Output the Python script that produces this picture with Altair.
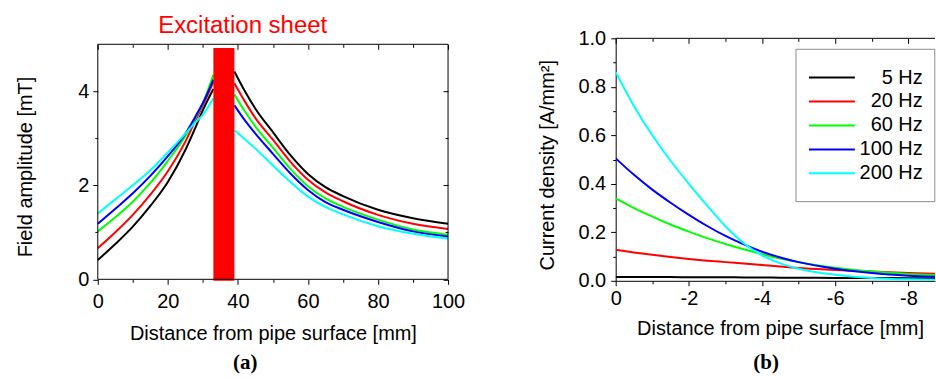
import altair as alt
import pandas as pd

# ---------------- data ----------------
freqs = ["5 Hz", "20 Hz", "60 Hz", "100 Hz", "200 Hz"]
colors = ["#000000", "#ff0000", "#00ff00", "#0000ff", "#00ffff"]

# (a) field amplitude [mT] vs distance [mm]; inner side of the sheet
a_x_in = [0, 5, 10, 15, 20, 25, 28, 30, 33]
a_in_5 = [0.41, 0.75, 1.12, 1.56, 2.07, 2.75, 3.25, 3.6, 4.05]
a_in_20 = [0.66, 1.0, 1.37, 1.8, 2.3, 2.93, 3.4, 3.7, 4.2]
a_in_60 = [1.02, 1.32, 1.65, 2.05, 2.52, 3.05, 3.45, 3.75, 4.35]
a_in_100 = [1.18, 1.5, 1.83, 2.2, 2.62, 3.1, 3.48, 3.75, 4.25]
a_in_200 = [1.40, 1.7, 2.0, 2.32, 2.7, 3.1, 3.35, 3.5, 3.85]
# outer side of the sheet
a_x_out = [39, 42, 45, 50, 55, 60, 65, 70, 80, 90, 100]
a_out_5 = [4.42, 4.0, 3.63, 3.13, 2.64, 2.24, 1.96, 1.77, 1.48, 1.3, 1.18]
a_out_20 = [4.17, 3.78, 3.43, 2.97, 2.5, 2.12, 1.85, 1.66, 1.37, 1.18, 1.07]
a_out_60 = [3.93, 3.57, 3.25, 2.8, 2.35, 1.98, 1.72, 1.54, 1.27, 1.06, 0.95]
a_out_100 = [3.7, 3.38, 3.1, 2.67, 2.25, 1.9, 1.64, 1.48, 1.22, 1.02, 0.91]
a_out_200 = [3.17, 2.98, 2.78, 2.42, 2.07, 1.76, 1.54, 1.38, 1.13, 0.97, 0.87]

sheet_x0, sheet_x1 = [33], [39]
sheet_y0, sheet_y1 = [-0.03], [4.92]

# (b) current density [A/mm^2] vs depth [mm]
b_x = [0, -0.5, -1, -1.5, -2, -2.5, -3, -3.5, -4, -4.5, -5, -6, -7, -8, -9]
b_5 = [0.016, 0.016, 0.016, 0.0155, 0.015, 0.015, 0.0145, 0.014, 0.0135, 0.013,
       0.0125, 0.012, 0.0115, 0.011, 0.010]
b_20 = [0.128, 0.117, 0.107, 0.098, 0.09, 0.083, 0.077, 0.071, 0.065, 0.059,
        0.053, 0.045, 0.038, 0.032, 0.028]
b_60 = [0.34, 0.30, 0.265, 0.232, 0.203, 0.176, 0.152, 0.13, 0.11, 0.092,
        0.077, 0.054, 0.038, 0.028, 0.022]
b_100 = [0.505, 0.437, 0.376, 0.322, 0.272, 0.226, 0.185, 0.15, 0.12, 0.096,
         0.077, 0.05, 0.032, 0.021, 0.015]
b_200 = [0.86, 0.72, 0.60, 0.495, 0.40, 0.31, 0.225, 0.155, 0.105, 0.072,
         0.05, 0.025, 0.012, 0.006, 0.004]

xa_ticks = [0, 20, 40, 60, 80, 100]
xa_minor = [10, 30, 50, 70, 90]
ya_ticks = [0, 2, 4]
ya_minor = [1, 3]
xb_ticks = [0, -2, -4, -6, -8]
xb_minor = [-1, -3, -5, -7]
yb_ticks = [0, 0.2, 0.4, 0.6, 0.8, 1.0]
yb_minor = [0.1, 0.3, 0.5, 0.7, 0.9]

sheet_label = ["Excitation sheet"]
panel_labels = ["(a)", "(b)"]

# ---------------- tables ----------------
rows = []
for f, yi, yo in zip(freqs, [a_in_5, a_in_20, a_in_60, a_in_100, a_in_200],
                     [a_out_5, a_out_20, a_out_60, a_out_100, a_out_200]):
    rows += [{"freq": f, "side": "in", "x": x, "y": y} for x, y in zip(a_x_in, yi)]
    rows += [{"freq": f, "side": "out", "x": x, "y": y} for x, y in zip(a_x_out, yo)]
df_a = pd.DataFrame(rows)
df_sheet = pd.DataFrame({"x0": sheet_x0, "x1": sheet_x1, "y0": sheet_y0, "y1": sheet_y1})

rows = []
for f, ys in zip(freqs, [b_5, b_20, b_60, b_100, b_200]):
    rows += [{"freq": f, "x": x, "y": y} for x, y in zip(b_x, ys)]
df_b = pd.DataFrame(rows)
df_leg = pd.DataFrame({"freq": freqs})
one_a = pd.DataFrame({"t": [panel_labels[0]]})
one_b = pd.DataFrame({"t": [panel_labels[1]]})
one_s = pd.DataFrame({"t": sheet_label})

# ---------------- layout / style ----------------
FONT = "Liberation Sans"
FS = 20
A_W, A_H = 351, 241.5
A_YMAX = 5.127          # plot area reaches slightly above the frame (frame at 5)
B_W, B_H = 320, 243
B_XMIN = -320 / 36.67

color_scale = alt.Scale(domain=freqs, range=colors)

# ======== panel (a) ========
xa = alt.Scale(domain=[0, 100], nice=False, zero=False)
ya = alt.Scale(domain=[0, A_YMAX], nice=False, zero=False)

base_a = alt.Chart(df_a)
lines_a = base_a.mark_line(strokeWidth=2, interpolate="monotone").encode(
    x=alt.X("x:Q", scale=xa, axis=alt.Axis(
        orient="bottom", values=xa_ticks, tickSize=5, labelPadding=7, domain=False,
        labelFlush=False, title="Distance from pipe surface [mm]", titlePadding=12)),
    y=alt.Y("y:Q", scale=ya, axis=alt.Axis(
        orient="left", values=ya_ticks, tickSize=5, labelPadding=4, domain=False,
        title="Field amplitude [mT]", titlePadding=42.7, titleY=128.5)),
    color=alt.Color("freq:N", scale=color_scale, legend=None),
    detail="side:N",
)


def tick_layer(base, xs, ys, xaxis, yaxis):
    return base.mark_line(opacity=0, clip=True).encode(
        x=alt.X("x:Q", scale=xs, axis=xaxis),
        y=alt.Y("y:Q", scale=ys, axis=yaxis),
    )


def ticks_only(orient, values, size, offset=0):
    return alt.Axis(orient=orient, values=values, tickSize=size, offset=offset, labels=False,
                    domain=False, title=None, minExtent=0, maxExtent=0)


minor_a = tick_layer(base_a, xa, ya, ticks_only("bottom", xa_minor, 3), ticks_only("left", ya_minor, 3))
top_a = tick_layer(base_a, xa, ya, ticks_only("top", xa_ticks, 5, -11), ticks_only("right", ya_ticks, 5, -5))
top_minor_a = tick_layer(base_a, xa, ya, ticks_only("top", xa_minor, 3, -9), ticks_only("right", ya_minor, 3, -3))

frame_a = alt.Chart(one_a).mark_rect(filled=False, stroke="black", strokeWidth=1).encode(
    x=alt.X(datum=0, scale=xa, axis=None), x2=alt.X2(datum=100),
    y=alt.Y(datum=0, scale=ya, axis=None), y2=alt.Y2(datum=5),
)

sheet = alt.Chart(df_sheet).mark_rect(color="#ff0000").encode(
    x=alt.X("x0:Q", scale=xa, axis=None), x2="x1:Q",
    y=alt.Y("y0:Q", scale=ya, axis=None), y2="y1:Q",
)

sheet_text = alt.Chart(one_s).mark_text(
    font=FONT, fontSize=24, color="#ff0000", baseline="alphabetic", align="center"
).encode(text="t:N", x=alt.value(145.2), y=alt.value(-5))

label_a = alt.Chart(one_a).mark_text(
    font="Liberation Serif", fontWeight="bold", fontSize=21, baseline="alphabetic", align="center"
).encode(text="t:N", x=alt.value(147.7), y=alt.value(331.5))

panel_a = alt.layer(
    lines_a, minor_a, top_a, top_minor_a, sheet, frame_a, sheet_text, label_a
).resolve_axis(x="independent", y="independent").properties(width=A_W, height=A_H)

# ======== panel (b) ========
xb = alt.Scale(domain=[0, B_XMIN], nice=False, zero=False)
yb = alt.Scale(domain=[0, 1], nice=False, zero=False)

base_b = alt.Chart(df_b)
lines_b = base_b.mark_line(strokeWidth=2, interpolate="monotone", clip=True).encode(
    x=alt.X("x:Q", scale=xb, axis=alt.Axis(
        orient="bottom", values=xb_ticks, tickSize=5, labelPadding=3, domain=True,
        labelFlush=False, labelExpr="datum.value == 0 ? '0' : '-' + abs(datum.value)",
        title="Distance from pipe surface [mm]", titlePadding=9.5, titleX=164.7)),
    y=alt.Y("y:Q", scale=yb, axis=alt.Axis(
        orient="left", values=yb_ticks, format=".1f", tickSize=5, labelPadding=5, domain=True,
        title="Current density [A/mm²]", titlePadding=21, titleY=126.7)),
    color=alt.Color("freq:N", scale=color_scale, legend=None),
)
minor_b = tick_layer(base_b, xb, yb, ticks_only("bottom", xb_minor, 3), ticks_only("left", yb_minor, 3))
top_b = tick_layer(base_b, xb, yb, ticks_only("top", xb_ticks, 5, -5), None)
top_minor_b = tick_layer(base_b, xb, yb, ticks_only("top", xb_minor, 3, -3), None)
top_line_b = alt.Chart(one_b).mark_rule(color="black", strokeWidth=1).encode(
    y=alt.Y(datum=1.0, scale=yb, axis=None)
)

leg_box = alt.Chart(one_b).mark_rect(filled=False, stroke="#8c8c8c", strokeWidth=1).encode(
    x=alt.value(180.7), x2=alt.value(319.8), y=alt.value(11), y2=alt.value(163.7)
)
leg_y = alt.Y("freq:N", sort=freqs, axis=None,
              scale=alt.Scale(type="point", domain=freqs, range=[39.3, 135.3], padding=0))
leg_lines = alt.Chart(df_leg).mark_rule(strokeWidth=2).encode(
    x=alt.value(193.7), x2=alt.value(239.7), y=leg_y,
    color=alt.Color("freq:N", scale=color_scale, legend=None),
)
leg_text = alt.Chart(df_leg).mark_text(
    align="right", baseline="middle", fontSize=20, font=FONT, color="black"
).encode(x=alt.value(307.7), y=leg_y, text="freq:N")

label_b = alt.Chart(one_b).mark_text(
    font="Liberation Serif", fontWeight="bold", fontSize=21, baseline="alphabetic", align="center"
).encode(text="t:N", x=alt.value(150.7), y=alt.value(331.5))

panel_b = alt.layer(
    lines_b, minor_b, top_b, top_minor_b, top_line_b, leg_box, leg_lines, leg_text, label_b
).resolve_scale(y="independent").resolve_axis(x="independent", y="independent").properties(
    width=B_W, height=B_H
)

chart = alt.hconcat(panel_a, panel_b, spacing=72).properties(
    padding={"left": 15, "top": 14, "right": 0, "bottom": 0}
).configure_view(stroke=None).configure_axis(
    labelFont=FONT, titleFont=FONT, labelFontSize=FS, titleFontSize=FS,
    labelColor="black", titleColor="black", tickColor="black", domainColor="black",
    tickWidth=1, domainWidth=1, grid=False, titleFontWeight="normal",
).configure_text(font=FONT)

chart.save("out.html", embed_options={"renderer": "svg", "actions": False})
